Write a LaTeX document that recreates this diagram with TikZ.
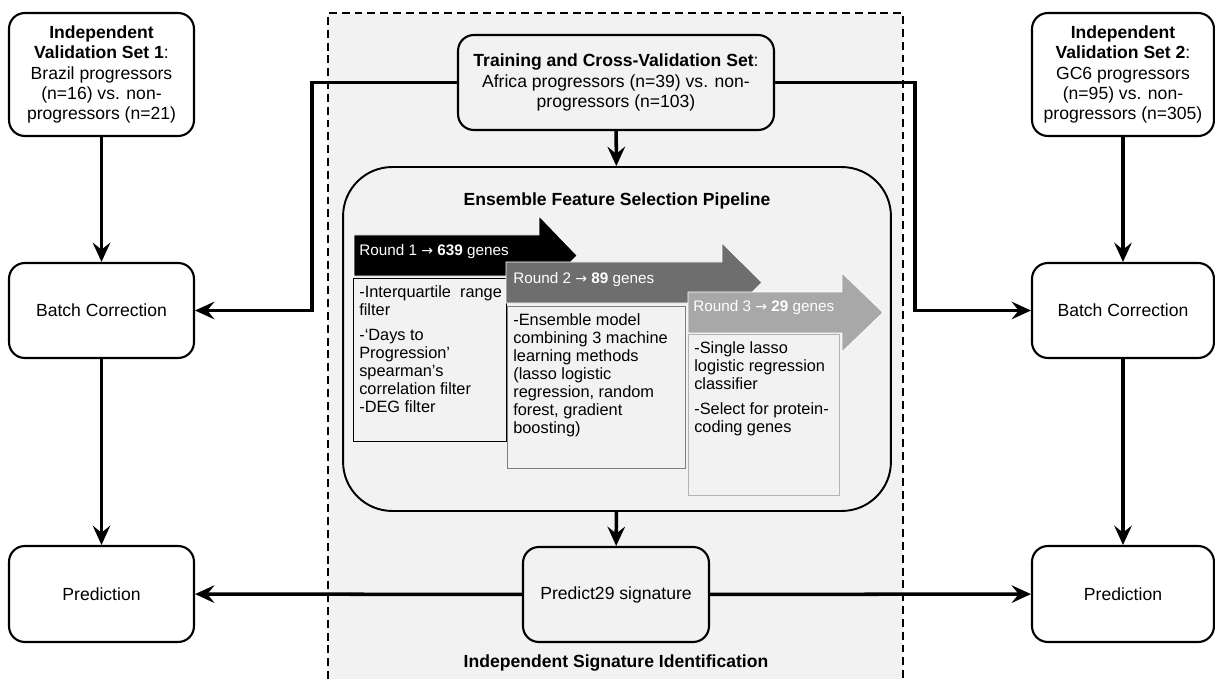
\documentclass[tikz,border=0pt]{standalone}
\usepackage{fontspec}
\setmainfont{Liberation Sans}
\newfontfamily\arrowfont{DejaVu Sans}
\usepackage{tikz}
\usetikzlibrary{arrows.meta,positioning}
\definecolor{PanelGray}{HTML}{F2F2F2}
\definecolor{RoundTwo}{HTML}{6E6E6E}
\definecolor{RoundThree}{HTML}{A8A8A8}
\definecolor{EdgeTwo}{HTML}{808080}
\definecolor{EdgeThree}{HTML}{B4B4B4}
\newcommand{\rto}{{\arrowfont\fontsize{8}{9}\selectfont →}}

\begin{document}
\begin{tikzpicture}[x=0.02cm, y=-0.02cm,
  n/.style={draw, fill=white, rounded corners=9pt, line width=1.2pt, font=\fontsize{10}{11.6}\selectfont,
    align=center, minimum width=3.7cm, minimum height=1.9cm, inner sep=2pt},
  conn/.style={-{Stealth[length=11pt, width=10pt, inset=4pt]}, line width=2pt},
  rbox/.style={fill=PanelGray, line width=0.8pt, anchor=north west, inner sep=0pt},
  rtxt/.style={anchor=north west, align=left, font=\fontsize{9.3}{10.2}\selectfont, inner xsep=3.4pt, inner ysep=4.4pt},
  rlab/.style={anchor=west, text=white, font=\fontsize{8.7}{10}\selectfont, inner sep=0pt},
  ttl/.style={font=\fontsize{10}{12}\selectfont\bfseries, inner sep=0pt}]
  \useasboundingbox (0,0) rectangle (1215,679);

  \fill[PanelGray] (328,13) rectangle (903,679);
  \draw[line width=1.1pt, dash pattern=on 4.5pt off 2.8pt] (328,679) -- (328,13) -- (903,13) -- (903,679);

  \node[n, minimum height=2.46cm] (set1) at (101.5,74.5)
    {\textbf{Independent}\\\textbf{Validation Set 1}:\\Brazil progressors\\(n=16) vs. non-\\progressors (n=21)};
  \node[n] (bc1) at (101.5,310.5) {Batch Correction};
  \node[n, minimum height=1.92cm] (pr1) at (101.5,594) {Prediction};

  \node[n, minimum width=3.64cm, minimum height=2.46cm] (set2) at (1123,74.5)
    {\textbf{Independent}\\\textbf{Validation Set 2}:\\GC6 progressors\\(n=95) vs. non-\\progressors (n=305)};
  \node[n, minimum width=3.64cm] (bc2) at (bc1 -| set2) {Batch Correction};
  \node[n, minimum width=3.64cm, minimum height=1.92cm] (pr2) at (pr1 -| set2) {Prediction};

  \node[n, fill=PanelGray, minimum width=6.32cm] (train) at (616,82.5)
    {\textbf{Training and Cross-Validation Set}:\\Africa progressors (n=39) vs. non-\\progressors (n=103)};
  \node[n, fill=PanelGray, rounded corners=28pt, line width=1.1pt, minimum width=10.96cm, minimum height=6.88cm] (ens) at (617,339) {};
  \node[ttl] (enstitle) at (617,201) {Ensemble Feature Selection Pipeline};
  \node[n, fill=PanelGray, minimum width=3.72cm] (p29) at (616,594.5) {Predict29 signature};
  \node[ttl] (sigtitle) at (616,663) {Independent Signature Identification};

  \filldraw[draw=white, fill=black, line width=0.4pt] (354,235) -- (539,235) -- (539,216) -- (577,255.5) -- (539,295) -- (539,276) -- (354,276) -- cycle;
  \node[rlab] (r1lab) at (359,252) {Round 1 \rto{} \textbf{639} genes};
  \node[rbox, draw=black, minimum width=3.06cm, minimum height=3.26cm] (r1box) at (353,278) {};
  \node[rtxt] (r1txt) at (r1box.north west)
    {-Interquartile\ \ range\\filter\\[4pt]-‘Days to\\Progression’\\spearman’s\\correlation filter\\-DEG filter};

  \filldraw[draw=white, fill=RoundTwo, line width=0.4pt] (506,262) -- (722,262) -- (722,243) -- (762,282.5) -- (722,322) -- (722,303) -- (506,303) -- cycle;
  \node[rlab] (r2lab) at (513,280) {Round 2 \rto{} \textbf{89} genes};
  \node[rbox, draw=EdgeTwo, minimum width=3.56cm, minimum height=3.24cm] (r2box) at (507,306) {};
  \node[rtxt] (r2txt) at (r2box.north west)
    {-Ensemble model\\combining 3 machine\\learning methods\\(lasso logistic\\regression, random\\forest, gradient\\boosting)};

  \filldraw[draw=white, fill=RoundThree, line width=0.4pt] (688,292) -- (842,292) -- (842,273) -- (883,312.5) -- (842,352) -- (842,333) -- (688,333) -- cycle;
  \node[rlab] (r3lab) at (693,308) {Round 3 \rto{} \textbf{29} genes};
  \node[rbox, draw=EdgeThree, minimum width=3.02cm, minimum height=3.22cm] (r3box) at (688,334) {};
  \node[rtxt] (r3txt) at (r3box.north west)
    {-Single lasso\\logistic regression\\classifier\\[4pt]-Select for protein-\\coding genes};

  \coordinate (lbend) at (312,310.5);
  \coordinate (rbend) at (915,310.5);
  \draw[conn] (set1) -- (bc1);
  \draw[conn] (bc1) -- (pr1);
  \draw[conn] (set2) -- (bc2);
  \draw[conn] (bc2) -- (pr2);
  \draw[conn] (train) -- (ens);
  \draw[conn] (ens) -- (p29);
  \draw[conn] (train.west) -| (lbend) -- (bc1.east);
  \draw[conn] (train.east) -| (rbend) -- (bc2.west);
  \draw[conn] (p29) -- (pr1);
  \draw[conn] (p29) -- (pr2);
\end{tikzpicture}
\end{document}
